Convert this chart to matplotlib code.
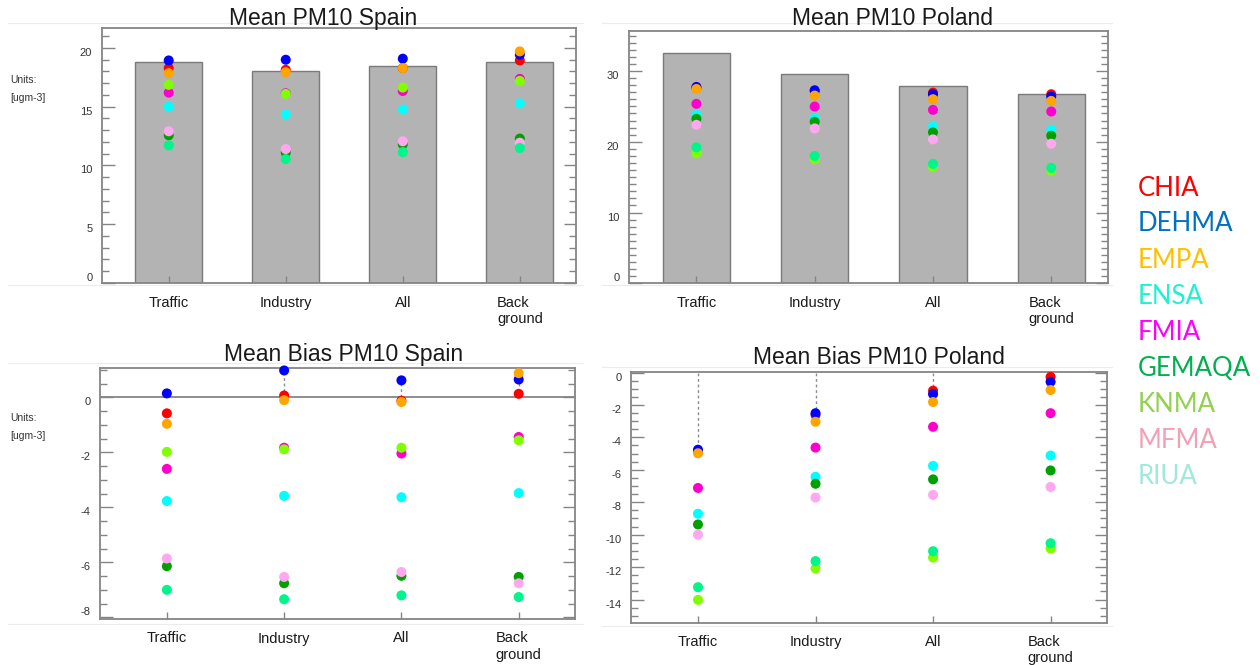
import numpy as np
import matplotlib
matplotlib.use('Agg')
import matplotlib.pyplot as plt
from matplotlib.lines import Line2D
from matplotlib.ticker import MultipleLocator

plt.rcParams['font.family'] = ['Liberation Sans', 'DejaVu Sans']
plt.rcParams['axes.unicode_minus'] = False

categories = ['Traffic', 'Industry', 'All', 'Back\nground']
models = ['CHIA', 'DEHMA', 'EMPA', 'ENSA', 'FMIA', 'GEMAQA', 'KNMA', 'MFMA', 'RIUA']
dot_colors = ['#ff0000', '#0000ff', '#ffa500', '#00ffff', '#ff00cc',
              '#00a000', '#80ff00', '#ffa8f0', '#00f58a']
legend_colors = ['#ff0000', '#0070c0', '#ffc000', '#1ef2d0', '#ff00ff',
                 '#00b050', '#92d050', '#f2a0b4', '#a0e8dc']

# observed means (grey bars)
obs_spain = [18.8, 18.03, 18.46, 18.83]
obs_poland = [32.48, 29.53, 27.89, 26.81]

# modelled means, one list per model over the categories
mean_spain = {
    'CHIA':   [18.29, 18.14, 18.30, 18.94],
    'DEHMA':  [18.94, 19.00, 19.09, 19.43],
    'EMPA':   [17.86, 17.94, 18.29, 19.71],
    'ENSA':   [15.00, 14.34, 14.77, 15.29],
    'FMIA':   [16.20, 16.15, 16.34, 17.37],
    'GEMAQA': [12.57, 11.09, 11.80, 12.29],
    'KNMA':   [16.86, 16.09, 16.63, 17.20],
    'MFMA':   [12.91, 11.40, 12.06, 11.94],
    'RIUA':   [11.71, 10.54, 11.14, 11.49],
}
mean_poland = {
    'CHIA':   [27.60, 27.15, 26.95, 26.72],
    'DEHMA':  [27.75, 27.28, 26.72, 26.39],
    'EMPA':   [27.47, 26.53, 26.02, 25.78],
    'ENSA':   [23.81, 23.30, 22.17, 21.70],
    'FMIA':   [25.36, 24.98, 24.51, 24.28],
    'GEMAQA': [23.25, 22.83, 21.33, 20.86],
    'KNMA':   [18.37, 17.53, 16.45, 15.94],
    'MFMA':   [22.40, 21.89, 20.34, 19.73],
    'RIUA':   [19.22, 18.00, 16.87, 16.31],
}
bias_spain = {
    'CHIA':   [-0.58, 0.07, -0.12, 0.13],
    'DEHMA':  [0.145, 0.98, 0.62, 0.65],
    'EMPA':   [-0.96, -0.10, -0.17, 0.88],
    'ENSA':   [-3.77, -3.58, -3.63, -3.48],
    'FMIA':   [-2.60, -1.83, -2.04, -1.44],
    'GEMAQA': [-6.14, -6.76, -6.49, -6.53],
    'KNMA':   [-1.98, -1.89, -1.83, -1.56],
    'MFMA':   [-5.86, -6.53, -6.35, -6.76],
    'RIUA':   [-7.00, -7.34, -7.20, -7.26],
}
bias_poland = {
    'CHIA':   [-4.85, -2.62, -1.12, -0.27],
    'DEHMA':  [-4.76, -2.51, -1.33, -0.57],
    'EMPA':   [-4.98, -3.04, -1.82, -1.08],
    'ENSA':   [-8.71, -6.43, -5.76, -5.12],
    'FMIA':   [-7.12, -4.63, -3.35, -2.51],
    'GEMAQA': [-9.37, -6.86, -6.59, -6.04],
    'KNMA':   [-14.02, -12.08, -11.41, -10.86],
    'MFMA':   [-10.00, -7.71, -7.55, -7.06],
    'RIUA':   [-13.24, -11.63, -11.02, -10.53],
}

W, H = 1260, 665
x = np.arange(len(categories))


def px_axes(fig, left, top, right, bottom):
    return fig.add_axes([left / W, 1 - bottom / H, (right - left) / W, (bottom - top) / H])


def style_axes(ax, ylim, yticks, minor):
    ax.set_xlim(-0.57, 3.48)
    ax.set_ylim(*ylim)
    for sp in ax.spines.values():
        sp.set_color('#858585')
        sp.set_linewidth(1.3)
    ax.set_yticks(yticks)
    ax.yaxis.set_minor_locator(MultipleLocator(minor))
    ax.tick_params(axis='y', which='both', direction='in', left=True, right=True,
                   colors='#858585', labelcolor='#333333', labelsize=8, pad=7)
    ax.tick_params(axis='y', which='major', length=9, width=1)
    ax.tick_params(axis='y', which='minor', length=5, width=1)
    ax.set_xticks(x)
    ax.set_xticklabels(categories)
    ax.tick_params(axis='x', direction='in', length=5, width=1, colors='#858585',
                   labelcolor='#1a1a1a', labelsize=10.5, pad=9)
    for lab in ax.get_xticklabels():
        lab.set_multialignment('left')
    # IDL style: labels hang just below their tick, kept inside the frame
    for t in ax.yaxis.get_major_ticks():
        t.label1.set_va('top')
    ticks = ax.yaxis.get_major_ticks()
    if yticks[0] <= ylim[0] + 0.2:
        ticks[0].label1.set_va('bottom')


def draw_dots(ax, data):
    for m, c in zip(models, dot_colors):
        ax.scatter(x, data[m], s=52, color=c, edgecolors='none', zorder=3, clip_on=False)


def draw_whiskers(ax, data):
    top = np.max([data[m] for m in models], axis=0)
    ax.vlines(x, 0, top, colors='#8c8c8c', linestyles=(0, (2, 2)), lw=1, zorder=2)


fig = plt.figure(figsize=(W / 100, H / 100), dpi=100)

# faint borders of the pasted panels
for x0, x1, y in [(8, 583, 22.7), (8, 583, 285), (602, 1112, 22.7), (602, 1112, 285),
                  (8, 583, 363.3), (8, 583, 624), (602, 1112, 367.3), (602, 1112, 626)]:
    fig.add_artist(Line2D([x0 / W, x1 / W], [1 - y / H] * 2, color='#ececec', lw=0.8))

# Mean PM10 Spain
ax1 = px_axes(fig, 102, 28, 576, 283)
ax1.bar(x, obs_spain, width=0.57, color='#b3b3b3', edgecolor='#7a7a7a', lw=1, zorder=1)
draw_dots(ax1, mean_spain)
style_axes(ax1, (0, 21.7), [0, 5, 10, 15, 20], 1)

# Mean PM10 Poland
ax2 = px_axes(fig, 629, 30.7, 1108, 283.3)
ax2.bar(x, obs_poland, width=0.57, color='#b3b3b3', edgecolor='#7a7a7a', lw=1, zorder=1)
draw_dots(ax2, mean_poland)
style_axes(ax2, (0, 35.7), [0, 10, 20, 30], 1)

# Mean Bias PM10 Spain
ax3 = px_axes(fig, 100, 367.7, 575, 619)
ax3.axhline(0, color='#858585', lw=1.3, zorder=1)
draw_whiskers(ax3, bias_spain)
draw_dots(ax3, bias_spain)
style_axes(ax3, (-8.06, 1.08), [-8, -6, -4, -2, 0], 0.5)

# Mean Bias PM10 Poland
ax4 = px_axes(fig, 631, 371.7, 1107, 622.7)
draw_whiskers(ax4, bias_poland)
draw_dots(ax4, bias_poland)
style_axes(ax4, (-15.43, 0.05), [-14, -12, -10, -8, -6, -4, -2, 0], 0.5)

# titles
title_kw = dict(ha='center', va='center', fontsize=16.5, color='#1a1a1a')
fig.text(323 / W, 1 - 18 / H, 'Mean PM10 Spain', **title_kw)
fig.text(893 / W, 1 - 18.5 / H, 'Mean PM10 Poland', **title_kw)
fig.text(344 / W, 1 - 355 / H, 'Mean Bias PM10 Spain', **title_kw)
fig.text(879 / W, 1 - 358 / H, 'Mean Bias PM10 Poland', **title_kw)

# units
for y0 in (80, 418):
    fig.text(10 / W, 1 - y0 / H, 'Units:', fontsize=7.5, color='#333333', va='center')
    fig.text(10 / W, 1 - (y0 + 18) / H, '[ugm-3]', fontsize=7.5, color='#333333', va='center')

# model names, coloured text on the right
for i, (m, c) in enumerate(zip(models, legend_colors)):
    fig.text(1138 / W, 1 - (188 + 36 * i) / H, m, color=c, fontsize=18.5,
             family=['Lato', 'DejaVu Sans'], va='center', ha='left')

fig.savefig('out.png', dpi=100)
